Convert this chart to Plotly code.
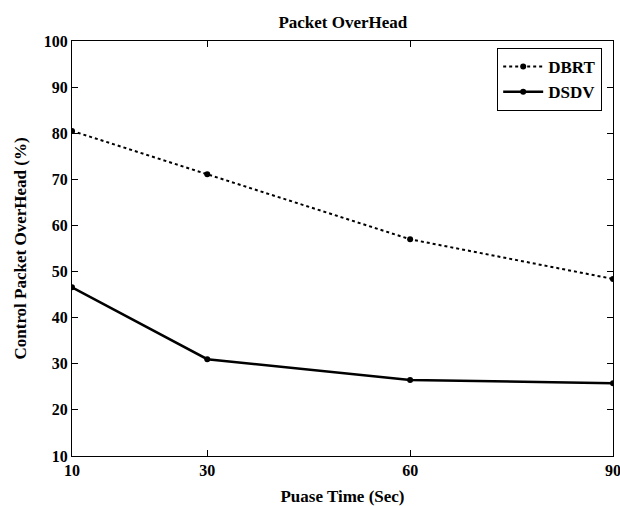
import plotly.graph_objects as go

pause_time = [10, 30, 60, 90]
dbrt = [80.5, 71.1, 57.0, 48.4]
dsdv = [46.6, 31.0, 26.5, 25.8]
x_ticks = [10, 30, 60, 90]
y_ticks = [10, 20, 30, 40, 50, 60, 70, 80, 90, 100]

FONT = "Liberation Serif"

fig = go.Figure()
fig.add_trace(go.Scatter(
    x=pause_time, y=dbrt, name="<b>DBRT</b>", mode="lines+markers",
    line=dict(color="black", width=2, dash="dot"),
    marker=dict(symbol="circle", size=6, color="black"),
))
fig.add_trace(go.Scatter(
    x=pause_time, y=dsdv, name="<b>DSDV</b>", mode="lines+markers",
    line=dict(color="black", width=2.5),
    marker=dict(symbol="circle", size=6, color="black"),
))

axis_common = dict(
    showline=True, linecolor="black", linewidth=1.2, mirror="ticks",
    ticks="inside", ticklen=6, tickcolor="black", tickwidth=1,
    showgrid=False, zeroline=False, ticklabeloverflow="allow",
    automargin=False,
    tickfont=dict(family=FONT, size=16, color="black", weight="bold"),
)

fig.update_layout(
    width=620, height=506,
    margin=dict(l=72, r=7, t=41, b=50),
    paper_bgcolor="white", plot_bgcolor="white",
    title=dict(text="<b>Packet OverHead</b>", x=0.553, xanchor="center",
               y=1 - 22 / 506, yanchor="middle",
               font=dict(family=FONT, size=17, color="black")),
    xaxis=dict(range=[10, 90], tickvals=x_ticks,
               title=dict(text="<b>Puase Time (Sec)</b>", standoff=12,
                          font=dict(family=FONT, size=17, color="black")),
               **axis_common),
    yaxis=dict(range=[10, 100], tickvals=y_ticks,
               title=dict(text="<b>Control Packet OverHead (%)</b>", standoff=12,
                          font=dict(family=FONT, size=17, color="black")),
               **axis_common),
    legend=dict(x=0.98, y=0.983, xanchor="right", yanchor="top",
                bordercolor="black", borderwidth=1, bgcolor="white",
                font=dict(family=FONT, size=17, color="black"),
                tracegroupgap=0, itemwidth=40),
    showlegend=True,
)

fig.write_html("out.html")
